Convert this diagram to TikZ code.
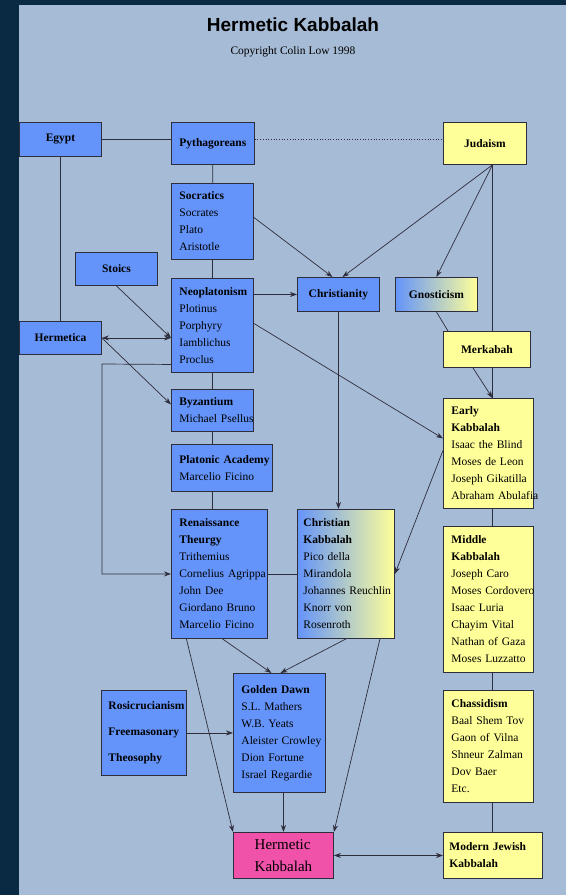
\documentclass[tikz,border=0pt]{standalone}
\usepackage{fontspec}
\setmainfont{Liberation Serif}
\newfontfamily\headfont{Liberation Sans}
\usetikzlibrary{arrows.meta}

\definecolor{pageBg}{RGB}{166,187,214}
\definecolor{frameDk}{RGB}{10,42,68}
\definecolor{boxBlue}{RGB}{100,148,250}
\definecolor{boxYellow}{RGB}{255,255,153}
\definecolor{boxPink}{RGB}{240,82,170}
\definecolor{edgeGray}{RGB}{45,45,60}

\begin{document}
\begin{tikzpicture}[
  x=1pt, y=-1pt,
  >={Stealth[length=7pt,width=5pt]},
  box/.style={draw=edgeGray, line width=0.9pt, anchor=north west,
    inner xsep=8pt, inner ysep=3pt,
    font=\fontsize{11.5}{17}\selectfont},
  hellenic/.style={box, fill=boxBlue},
  judaic/.style={box, fill=boxYellow},
  blend/.style={box, left color=boxBlue, right color=boxYellow},
  goal/.style={box, fill=boxPink},
  people/.style={align=left, text width=#1,
    execute at begin node={\hyphenpenalty=10000\exhyphenpenalty=10000\lefthyphenmin=62}},
  link/.style={edgeGray, line width=0.7pt}
]
  % page and frame
  \fill[frameDk] (0,0) rectangle (566,895);
  \fill[pageBg] (19,5) rectangle (566,895);

  \node[font=\headfont\bfseries\fontsize{19}{22}\selectfont] (tTitle) at (293,25) {Hermetic Kabbalah};
  \node[font=\fontsize{11.5}{14}\selectfont] (tCopy) at (293,52) {Copyright Colin Low 1998};

  % greek and western line
  \node[hellenic, minimum width=82pt, minimum height=34pt] (nEgypt) at (19,122) {\textbf{Egypt}};
  \node[hellenic, minimum width=82pt, minimum height=42pt] (nPyth) at (171,122) {\textbf{Pythagoreans}};
  \node[hellenic, people=66pt, minimum height=76pt] (nSocr) at (171,183)
    {\textbf{Socratics}\\Socrates\\Plato\\Aristotle};
  \node[hellenic, minimum width=82pt, minimum height=33pt] (nStoics) at (75,252) {\textbf{Stoics}};
  \node[hellenic, minimum width=82pt, minimum height=33pt] (nHerm) at (19,321) {\textbf{Hermetica}};
  \node[hellenic, people=66pt, minimum height=94pt] (nNeo) at (171,278)
    {\textbf{Neoplatonism}\\Plotinus\\Porphyry\\Iamblichus\\Proclus};
  \node[hellenic, people=66pt, minimum height=42pt] (nByz) at (171,389)
    {\textbf{Byzantium}\\Michael~Psellus};
  \node[hellenic, people=85pt, minimum height=47pt] (nPlat) at (171,444)
    {\textbf{Platonic~Academy}\\Marcelio~Ficino};
  \node[hellenic, people=80pt, minimum height=129pt] (nRen) at (171,509)
    {\textbf{Renaissance}\\\textbf{Theurgy}\\Trithemius\\Cornelius~Agrippa\\John~Dee\\Giordano~Bruno\\Marcelio~Ficino};
  \node[hellenic, minimum width=82pt, minimum height=34pt] (nChr) at (297,277) {\textbf{Christianity}};
  \node[blend, minimum width=82pt, minimum height=34pt] (nGnos) at (395,277) {\textbf{Gnosticism}};
  \node[blend, people=85pt, inner xsep=6pt, minimum height=129pt] (nCK) at (297,509)
    {\textbf{Christian}\\\textbf{Kabbalah}\\Pico~della\\Mirandola\\Johannes~Reuchlin\\Knorr~von\\Rosenroth};
  \node[hellenic, people=76pt, minimum height=119pt] (nGD) at (233,673)
    {\textbf{Golden~Dawn}\\S.L.~Mathers\\W.B.~Yeats\\Aleister~Crowley\\Dion~Fortune\\Israel~Regardie};
  \node[hellenic, people=71pt, inner xsep=7pt, minimum height=85pt,
    font=\fontsize{11.5}{26}\selectfont] (nRos) at (101,690)
    {\textbf{Rosicrucianism}\\\textbf{Freemasonary}\\\textbf{Theosophy}};
  \node[goal, align=left, minimum width=100pt, minimum height=46pt,
    font=\fontsize{15}{22}\selectfont] (nHK) at (233,832) {Hermetic\\Kabbalah};

  % jewish line
  \node[judaic, minimum width=83pt, minimum height=42pt] (nJud) at (443,122) {\textbf{Judaism}};
  \node[judaic, minimum width=87pt, minimum height=36pt] (nMerk) at (443,331) {\textbf{Merkabah}};
  \node[judaic, people=74pt, minimum height=110pt] (nEK) at (443,398)
    {\textbf{Early}\\\textbf{Kabbalah}\\Isaac~the~Blind\\Moses~de~Leon\\Joseph~Gikatilla\\Abraham~Abulafia};
  \node[judaic, people=74pt, minimum height=146pt] (nMK) at (443,526)
    {\textbf{Middle}\\\textbf{Kabbalah}\\Joseph~Caro\\Moses~Cordovero\\Isaac~Luria\\Chayim~Vital\\Nathan~of~Gaza\\Moses~Luzzatto};
  \node[judaic, people=74pt, minimum height=112pt] (nChas) at (443,690)
    {\textbf{Chassidism}\\Baal~Shem~Tov\\Gaon~of~Vilna\\Shneur~Zalman\\Dov~Baer\\Etc.};
  \node[judaic, people=87pt, inner xsep=6pt, minimum height=46pt] (nMJK) at (443,832)
    {\textbf{Modern~Jewish}\\\textbf{Kabbalah}};

  \coordinate (jBase) at ([xshift=7.5pt]nJud.south);
  \coordinate (loopL) at (102,364);

  % plain links
  \draw[link] (nEgypt.east) -- (nEgypt.east -| nPyth.west);
  \draw[link, dotted] ([yshift=4pt]nPyth.east) -- ([yshift=4pt]nPyth.east -| nJud.west);
  \draw[link] (nEgypt) -- (nHerm);
  \draw[link] (nPyth) -- (nSocr);
  \draw[link] (nSocr) -- (nNeo);
  \draw[link] (nNeo) -- (nByz);
  \draw[link] (nByz.south) -- (nByz.south |- nPlat.north);
  \draw[link] (nByz.south |- nPlat.south) -- (nByz.south |- nRen.north);
  \draw[link] (nRen.east) -- (nCK.west);
  \draw[link] (jBase) -- (jBase |- nMerk.north);
  \draw[link] (jBase |- nMerk.south) -- (jBase |- nEK.north);
  \draw[link] (jBase |- nEK.south) -- (jBase |- nMK.north);
  \draw[link] (jBase |- nMK.south) -- (jBase |- nChas.north);
  \draw[link] (jBase |- nChas.south) -- (jBase |- nMJK.north);
  \draw[link] (nGnos.south) -- ([xshift=5pt]nMerk.north west);

  % influences
  \draw[link, ->] (nStoics.south) -- (nNeo.west |- nHerm.east);
  \draw[link, <->] (nHerm.east) -- (nHerm.east -| nNeo.west);
  \draw[link, ->] (nHerm.east) -- ([yshift=6pt]nByz.west);
  \draw[link, ->] ([yshift=-39pt]nNeo.west) -- (loopL) |- (nRen.west);
  \draw[link, ->] (nNeo.east |- nChr.west) -- (nChr.west);
  \draw[link, ->] ([yshift=4pt]nSocr.east) -- ([xshift=-6pt]nChr.north);
  \draw[link, ->] (jBase) -- ([xshift=4pt]nChr.north);
  \draw[link, ->] (jBase) -- (nGnos.north);
  \draw[link, ->] ([xshift=-14pt]nMerk.south) -- (jBase |- nEK.north);
  \draw[link, ->] (nChr.south) -- (nChr.south |- nCK.north);
  \draw[link, ->] ([yshift=2pt]nNeo.east) -- ([yshift=15pt]nEK.west);
  \draw[link, ->] ([yshift=3pt]nEK.west) -- (nCK.east);
  \draw[link, ->] ([xshift=3pt]nRen.south) -- ([xshift=-8pt]nGD.north);
  \draw[link, ->] (nCK.south) -- ([xshift=1pt]nGD.north);
  \draw[link, ->] ([xshift=-33pt]nRen.south) -- (nHK.north west);
  \draw[link, ->] ([xshift=34pt]nCK.south) -- (nHK.north east);
  \draw[link, ->] (nGD.south -| nHK.north) -- (nHK.north);
  \draw[link, ->] (nRos.east) -- (nRos.east -| nGD.west);
  \draw[link, <->] (nHK.east) -- (nMJK.west);
\end{tikzpicture}
\end{document}
